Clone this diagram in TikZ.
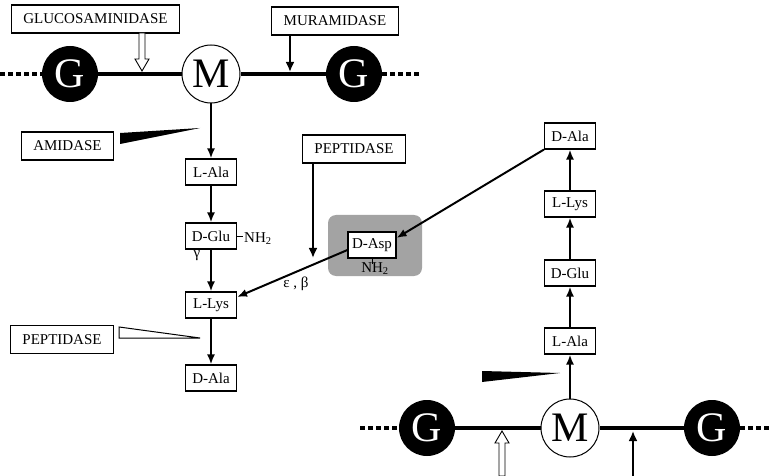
\documentclass[tikz,border=0pt]{standalone}
\usepackage{fontspec}
\setmainfont{Liberation Serif}
\usetikzlibrary{arrows.meta}

\tikzset{
  sugarG/.style={circle,fill=black,text=white,minimum size=56pt,inner sep=0pt,font=\fontsize{42}{42}\selectfont},
  sugarM/.style={circle,draw,fill=white,line width=1pt,minimum size=58pt,inner sep=0pt,font=\fontsize{42}{42}\selectfont},
  enzbox/.style={draw,line width=1.1pt,minimum height=28pt,inner xsep=12pt,font=\fontsize{15}{17}\selectfont},
  aabox/.style={draw,fill=white,line width=1.1pt,minimum width=51pt,minimum height=26pt,inner sep=2pt,font=\fontsize{15}{17}\selectfont},
  chain/.style={line width=3.5pt},
  chainend/.style={line width=4pt,dash pattern=on 5pt off 3pt},
  link/.style={line width=2pt,-{Latex[length=10pt,width=8pt]}},
  cut/.style={line width=2.6pt,-{Latex[length=10pt,width=9pt]}},
  hollow/.style={draw,fill=white,line width=0.9pt,line join=miter},
  graypad/.style={fill=black!36,rounded corners=8pt,minimum width=94pt,minimum height=61pt},
  small/.style={font=\fontsize{15}{17}\selectfont,inner sep=1pt},
}

\newcommand{\hollowarrow}[1]{\draw[hollow] (0,0) -- (-7,-12) -- (-3,-12) -- (-3,-#1) -- (3,-#1) -- (3,-12) -- (7,-12) -- cycle;}

\begin{document}
\begin{tikzpicture}[x=1pt,y=-1pt]
    \useasboundingbox (0,0) rectangle (772,476);

    % upper strand
    \coordinate (endL1) at (0,74);
    \coordinate (endR1) at (420,74);
    \node[sugarG] (g1) at (70,74) {G};
    \node[sugarM] (m1) at (211,74) {M};
    \node[sugarG] (g2) at (354,74) {G};
    \draw[chainend] (endL1) -- (g1);
    \draw[chainend] (g2) -- (endR1);
    \draw[chain] (g1) -- (m1) -- (g2);

    \node[enzbox] (gluc) at (95.5,19) {GLUCOSAMINIDASE};
    \node[enzbox] (mura) at (335,21) {MURAMIDASE};
    \coordinate (glucut) at (142,71);
    \coordinate (muracut) at (290,72);
    \begin{scope}[shift={(glucut)}]
        \hollowarrow{38}
    \end{scope}
    \draw[cut] ([xshift=-45pt]mura.south) -- (muracut);

    % stem peptide, left
    \node[aabox] (lala1) at (211,172) {L-Ala};
    \node[aabox] (dglu1) at (211,236) {D-Glu};
    \node[aabox] (llys1) at (211,305) {L-Lys};
    \node[aabox] (dala1) at (211,378) {D-Ala};
    \draw[link] (m1) -- (lala1);
    \draw[link] (lala1) -- (dglu1);
    \draw[link] (dglu1) -- (llys1);
    \draw[link] (llys1) -- (dala1);
    \node[small,anchor=west] (nh2a) at (243,239) {NH\textsubscript{2}};
    \draw[line width=0.8pt] (dglu1.east) -- (dglu1.east -| nh2a.west);
    \node[small] (gam) at (197,256) {γ};

    \node[enzbox] (amid) at (67.5,146) {AMIDASE};
    \coordinate (amidtip) at (200,128);
    \fill ([shift={(6pt,13pt)}]amid.east) -- (amidtip) -- ([shift={(6pt,2pt)}]amid.east) -- cycle;

    \node[enzbox] (pep2) at (62,339.5) {PEPTIDASE};
    \coordinate (pep2tip) at (200,338);
    \draw[line width=1pt,fill=white] ([shift={(5pt,12.5pt)}]pep2.east) -- (pep2tip) -- ([shift={(5pt,1.5pt)}]pep2.east) -- cycle;

    % cross bridge
    \node[graypad] (pad) at (375,245.5) {};
    \node[aabox,minimum width=48pt] (dasp) at (372,245) {D-Asp};
    \node[small] (nh2b) at (375,269) {NH\textsubscript{2}};
    \draw[line width=0.8pt] (dasp.south) -- ++(0,5);
    \draw[link] ([yshift=-5pt]dasp.west) -- ([yshift=8pt]llys1.east);
    \node[small] (epsb) at (296,284) {ε , β};

    \node[enzbox] (pep1) at (354,149) {PEPTIDASE};
    \coordinate (pep1cut) at (313,258);
    \draw[cut,line width=2.8pt] ([xshift=-41pt]pep1.south) -- (pep1cut);

    % lower strand
    \coordinate (endL2) at (360,428);
    \coordinate (endR2) at (772,428);
    \node[sugarG] (g3) at (427,428) {G};
    \node[sugarM] (m2) at (570,428) {M};
    \node[sugarG] (g4) at (712,428) {G};
    \draw[chainend] (endL2) -- (g3);
    \draw[chainend] (g4) -- (endR2);
    \draw[chain] (g3) -- (m2) -- (g4);

    % stem peptide, right
    \node[aabox] (lala2) at (570,341) {L-Ala};
    \node[aabox] (dglu2) at (570,273) {D-Glu};
    \node[aabox] (llys2) at (570,204) {L-Lys};
    \node[aabox] (dala2) at (570,136) {D-Ala};
    \draw[link] (m2) -- (lala2);
    \draw[link] (lala2) -- (dglu2);
    \draw[link] (dglu2) -- (llys2);
    \draw[link] (llys2) -- (dala2);
    \draw[link] (dala2.south west) -- ([yshift=7pt]dasp.east);

    \fill (482,371) -- (560,373) -- (482,382) -- cycle;
    \coordinate (glucut2) at (502,431);
    \coordinate (muraB) at (633,476);
    \coordinate (muracut2) at (633,431);
    \begin{scope}[shift={(glucut2)},yscale=-1]
        \hollowarrow{45}
    \end{scope}
    \draw[cut] (muraB) -- (muracut2);
\end{tikzpicture}
\end{document}
